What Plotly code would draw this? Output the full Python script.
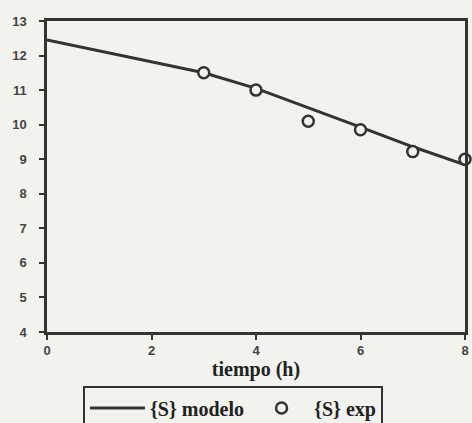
import plotly.graph_objects as go

# Data
t_model = [0, 1, 2, 3, 4, 5, 6, 7, 8]
s_model = [12.45, 12.13, 11.81, 11.5, 11.05, 10.5, 9.93, 9.36, 8.84]
t_exp = [3, 4, 5, 6, 7, 8]
s_exp = [11.5, 11.0, 10.1, 9.85, 9.22, 9.0]
x_ticks = [0, 2, 4, 6, 8]
y_ticks = [4, 5, 6, 7, 8, 9, 10, 11, 12, 13]

BG = "#f2f2ef"
INK = "#333333"

fig = go.Figure()
fig.add_trace(go.Scatter(
    x=t_model, y=s_model, mode="lines", name="<b>{S} modelo</b>",
    line=dict(color=INK, width=3),
    cliponaxis=False,
))
fig.add_trace(go.Scatter(
    x=t_exp, y=s_exp, mode="markers", name="<b>{S} exp</b>",
    marker=dict(symbol="circle", size=11, color=BG,
                line=dict(color=INK, width=2.5)),
    cliponaxis=False,
))

fig.update_layout(
    width=472, height=423,
    margin=dict(l=47, r=7, t=21, b=91, autoexpand=False),
    paper_bgcolor=BG, plot_bgcolor=BG,
    showlegend=True,
    legend=dict(
        orientation="h", x=0.086, y=-0.175, xanchor="left", yanchor="top",
        bgcolor=BG, bordercolor=INK, borderwidth=2,
        font=dict(family="Liberation Serif", size=20, color="#222222"),
        itemwidth=55,
    ),
    font=dict(family="Liberation Sans", color=INK),
)
fig.update_xaxes(
    range=[0, 8], tickvals=x_ticks, ticktext=[f"<b>{v}</b>" for v in x_ticks],
    showgrid=False, zeroline=False,
    showline=True, linecolor=INK, linewidth=2.5, mirror=True,
    ticks="outside", ticklen=5, tickwidth=2, tickcolor=INK,
    ticklabelstandoff=0,
    tickfont=dict(family="Liberation Sans", size=13, color="#444444"),
    title=dict(text="<b>tiempo (h)</b>", standoff=0,
               font=dict(family="Liberation Serif", size=20, color="#222222")),
)
fig.update_yaxes(
    range=[4, 13], tickvals=y_ticks, ticktext=[f"<b>{v}</b>" for v in y_ticks],
    showgrid=False, zeroline=False,
    showline=True, linecolor=INK, linewidth=2.5, mirror=True,
    ticks="outside", ticklen=5, tickwidth=2, tickcolor=INK,
    ticklabelstandoff=10,
    tickfont=dict(family="Liberation Sans", size=13, color="#444444"),
)

fig.write_html(
    "out.html",
    config={"displayModeBar": False},
    post_script="document.body.style.margin='0';document.body.style.padding='0';",
)
